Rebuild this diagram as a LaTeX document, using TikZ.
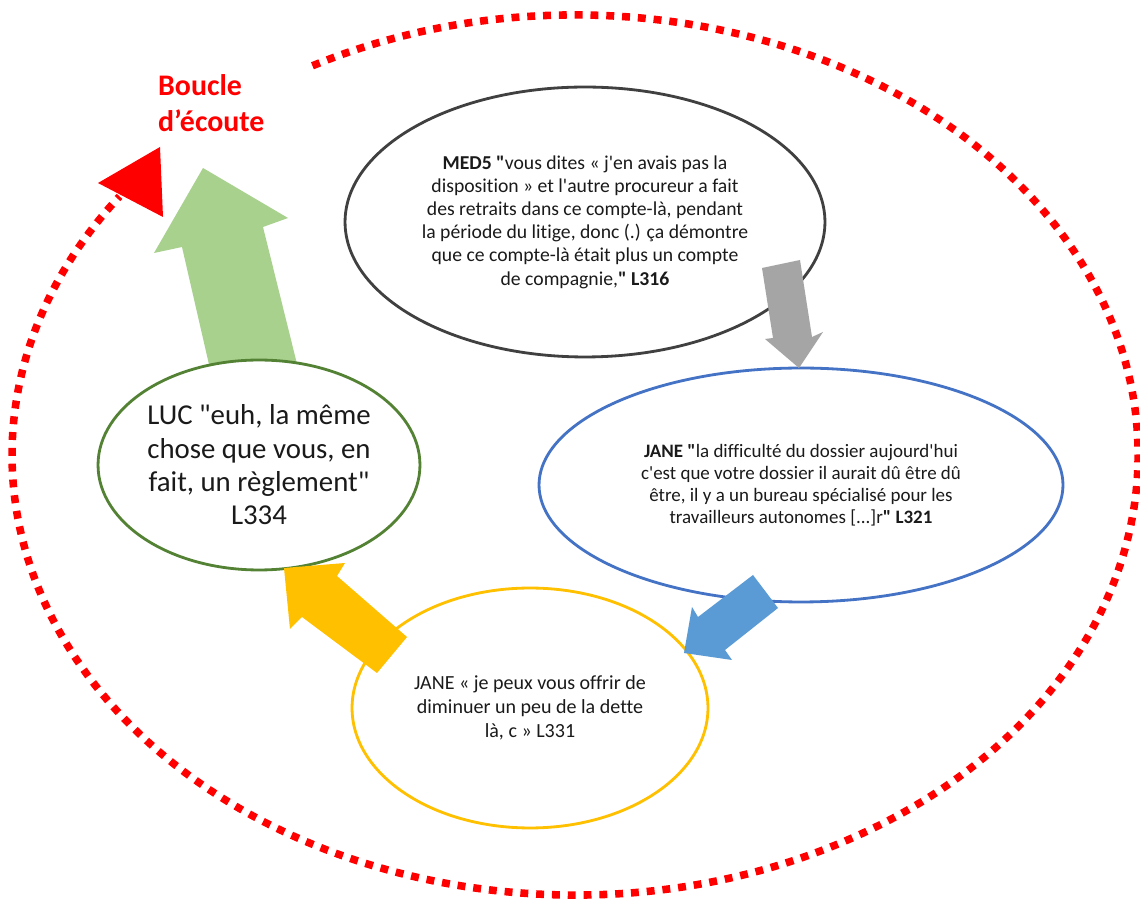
\documentclass[tikz,border=0pt]{standalone}
\usepackage{fontspec}
\setmainfont{Carlito}[Ligatures={TeXOff,NoCommon}]
\usetikzlibrary{shapes.geometric}
\definecolor{loopred}{HTML}{FF0000}
\definecolor{greenfill}{HTML}{A9D18E}
\definecolor{grayfill}{HTML}{A5A5A5}
\definecolor{bluefill}{HTML}{5B9BD5}
\definecolor{yellowfill}{HTML}{FFC000}
\definecolor{medline}{HTML}{404040}
\definecolor{blueline}{HTML}{4472C4}
\definecolor{yellowline}{HTML}{FFC000}
\definecolor{greenline}{HTML}{548235}
\definecolor{txt}{HTML}{1A1A1A}
\begin{document}
\begin{tikzpicture}[x=0.02cm,y=-0.02cm,
  oval/.style={ellipse, draw, line width=1.6pt, fill=white, inner sep=0pt, align=center, text=txt},
  listenloop/.style={draw=loopred, line width=4.3pt, dash pattern=on 4.5pt off 4.5pt}]
\useasboundingbox (0,0) rectangle (1140,901);
\fill[white] (0,0) rectangle (1140,901);
\coordinate (loopc) at (575,455);
% listening loop
\draw[listenloop] (loopc) ++(242.2:563 and 440) arc[start angle=242.2, end angle=576, x radius=563, y radius=440];
\fill[loopred] (160,147) -- (98,183) -- (163,217) -- cycle;
\node[anchor=base west, text=loopred, font=\bfseries\fontsize{17}{21}\selectfont, align=left] (title) at (152,132) {Boucle\\d’écoute};
% green arrow (behind LUC ellipse)
\fill[greenfill] (203,168) -- (288,218) -- (263,227) -- (301,380) -- (216,395) -- (182,247) -- (154,253) -- cycle;
% ellipses
\node[oval, draw=medline, minimum width=9.6cm, minimum height=5.4cm, font=\fontsize{11.2}{13.2}\selectfont] (med) at (585,222)
 {\textbf{MED5 "}vous dites « j'en avais pas la\\
  disposition » et l'autre procureur a fait\\
  des retraits dans ce compte-là, pendant\\
  la période du litige, donc (.) ça démontre\\
  que ce compte-là était plus un compte\\
  de compagnie,\textbf{" L316}};
\node[oval, draw=blueline, minimum width=10.48cm, minimum height=4.68cm, font=\fontsize{10.8}{12.6}\selectfont] (janeb) at (801,485)
 {\textbf{JANE "}la difficulté du dossier aujourd'hui\\
  c'est que votre dossier il aurait dû être dû\\
  être, il y a un bureau spécialisé pour les\\
  travailleurs autonomes [...]r\textbf{" L321}};
\node[oval, draw=yellowline, minimum width=7.12cm, minimum height=4.8cm, font=\fontsize{11.4}{13.5}\selectfont] (janey) at (530,708)
 {JANE « je peux vous offrir de\\ diminuer un peu de la dette\\ là, c » L331};
\node[oval, draw=greenline, minimum width=6.44cm, minimum height=4.2cm, font=\fontsize{16.4}{19}\selectfont] (luc) at (259,465)
 {LUC "euh, la même\\ chose que vous, en\\ fait, un règlement"\\ L334};
% block arrows
\fill[grayfill] (762,268) -- (800,260) -- (812,337) -- (823,332) -- (799,368) -- (765,339) -- (773,338) -- cycle;
\fill[bluefill] (753,575) -- (778,608) -- (725,650) -- (732,660) -- (684,653) -- (692,607) -- (698,617) -- cycle;
\fill[yellowfill] (284,568) -- (345,563) -- (337,576) -- (407,637) -- (377,673) -- (302,617) -- (290,629) -- cycle;
\end{tikzpicture}
\end{document}
